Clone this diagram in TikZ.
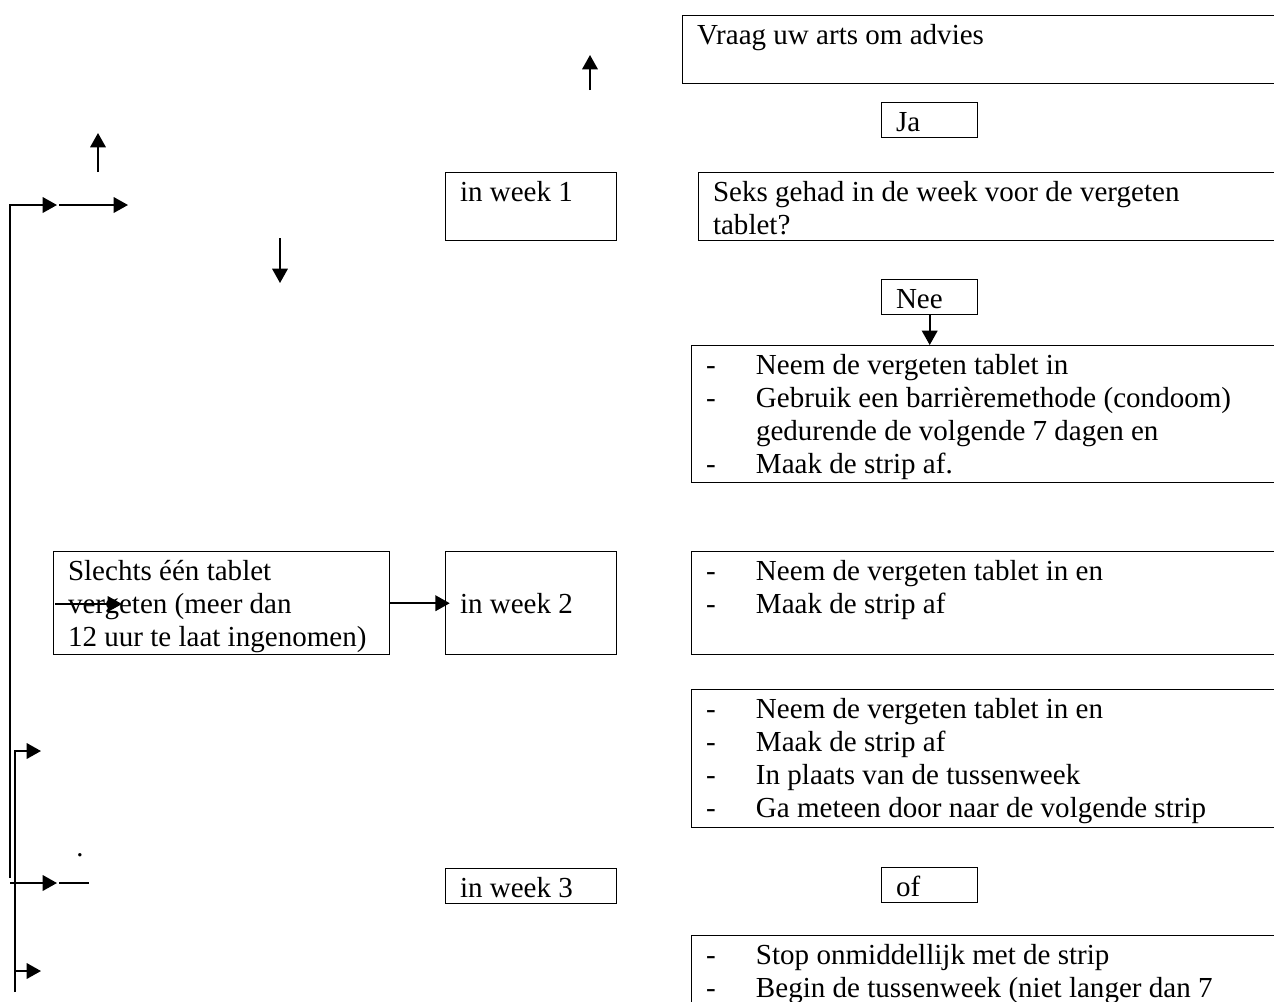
\documentclass[tikz,border=0pt]{standalone}
\usepackage{fontspec}
\setmainfont{Liberation Serif}
\usetikzlibrary{arrows.meta}
\newdimen\pxl \pxl=0.42pt
% box content: width, height (in px), text
\newcommand{\inhoud}[3]{\parbox[t][\dimexpr#2\pxl-5pt\relax][t]{\dimexpr#1\pxl-12pt\relax}{\strut#3}}
\newcommand{\streep}{\makebox[50\pxl][l]{-}}
\begin{document}
\begin{tikzpicture}[x=0.42pt,y=-0.42pt,
  vak/.style={draw,line width=0.6pt,rectangle,anchor=north west,inner xsep=6pt,inner ysep=2.5pt,font=\fontsize{12.2}{13.8}\selectfont},
  pijl/.style={line width=0.8pt,-{Triangle[length=6pt,width=6.5pt]}}]
\clip (0,0) rectangle (1274,1001);
\node[vak](advies) at (682,15){\inhoud{620}{68}{Vraag uw arts om advies}};
\node[vak](ja) at (881,102){\inhoud{96}{34}{Ja}};
\node[vak](week1) at (445,172){\inhoud{171}{68}{in week 1}};
\node[vak](seks) at (698,172){\inhoud{620}{68}{Seks gehad in de week voor de vergeten\\tablet?}};
\node[vak](nee) at (881,279){\inhoud{96}{34}{Nee}};
\node[vak](lijst1) at (691,345){\inhoud{620}{137}{\streep Neem de vergeten tablet in\\\streep Gebruik een barrièremethode (condoom)\\\hspace*{50\pxl}gedurende de volgende 7 dagen en\\\streep Maak de strip af.}};
\draw[pijl] (nee.south) -- (nee.south |- lijst1.north);
\node[vak](slechts) at (53,551){\inhoud{336}{103}{Slechts één tablet\\vergeten (meer dan\\12 uur te laat ingenomen)}};
\node[vak](week2) at (445,551){\inhoud{171}{103}{\mbox{}\\in week 2}};
\draw[pijl,shorten >=-2pt] (slechts.east) -- (week2.west);
\node[vak](lijst2) at (691,551){\inhoud{620}{103}{\streep Neem de vergeten tablet in en\\\streep Maak de strip af}};
\node[vak](lijst3) at (691,689){\inhoud{620}{138}{\streep Neem de vergeten tablet in en\\\streep Maak de strip af\\\streep In plaats van de tussenweek\\\streep Ga meteen door naar de volgende strip}};
\node[vak](week3) at (445,868){\inhoud{171}{32}{in week 3}};
\node[vak](of) at (881,867){\inhoud{96}{34}{of}};
\node[vak](lijst4) at (691,935){\inhoud{620}{120}{\streep Stop onmiddellijk met de strip\\\streep Begin de tussenweek (niet langer dan 7}};
% loose arrows
\coordinate (a1) at (590,90); \coordinate (a1e) at (590,55);
\coordinate (a2) at (98,172); \coordinate (a2e) at (98,133);
\coordinate (a3) at (280,238); \coordinate (a3e) at (280,283);
\draw[pijl] (a1) -- (a1e);
\draw[pijl] (a2) -- (a2e);
\draw[pijl] (a3) -- (a3e);
\coordinate (s1) at (55,604); \coordinate (s1e) at (122,604);
\draw[pijl] (s1) -- (s1e);
% left brackets
\coordinate (b1) at (10,878); \coordinate (b1m) at (57,205); \coordinate (b1e) at (128,205);
\draw[pijl] (b1) |- (b1m);
\draw[pijl] ([xshift=1]b1m) -- (b1e);
\coordinate (b2) at (15,992); \coordinate (b2e) at (41,751);
\draw[pijl] (b2) |- (b2e);
\coordinate (b3) at (15,971); \coordinate (b3e) at (41,971);
\draw[pijl] (b3) -- (b3e);
\coordinate (b4) at (10,883); \coordinate (b4m) at (57,883); \coordinate (b4e) at (89,883);
\draw[pijl] (b4) -- (b4m);
\draw[line width=0.8pt] ([xshift=1]b4m) -- (b4e);
\node[inner sep=0pt,font=\fontsize{12}{13.8}\selectfont](punt) at (80,855){.};
\end{tikzpicture}
\end{document}
